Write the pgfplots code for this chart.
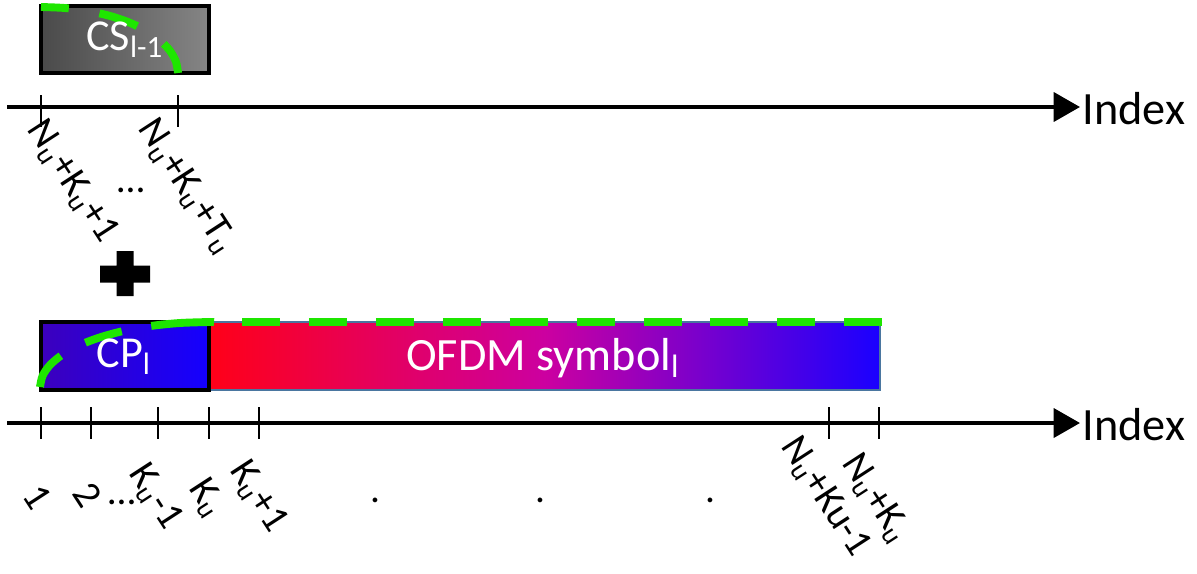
\documentclass[border=0pt]{standalone}
\usepackage{fontspec}
\setmainfont{Carlito}
\usepackage{pgfplots}
\pgfplotsset{compat=1.18}
\usetikzlibrary{arrows.meta}
\definecolor{grn}{HTML}{1EE600}
\definecolor{csL}{HTML}{4A4A4A}
\definecolor{csR}{HTML}{858585}
\definecolor{cpL}{HTML}{3C00BD}
\definecolor{cpR}{HTML}{1400FF}
\definecolor{ofL}{HTML}{FF0018}
\definecolor{ofM}{HTML}{CC00A0}
\definecolor{ofR}{HTML}{1A00FF}
\definecolor{ofB}{HTML}{4A76A0}
\begin{document}
\begin{tikzpicture}
\begin{axis}[width=16cm,height=7.4587cm,scale only axis,
  xmin=0,xmax=1197,ymin=0,ymax=558,y dir=reverse,
  hide axis,clip=false,unbounded coords=jump]
% frame that fixes the picture's extent
\addplot[draw=none] coordinates {(0,0)(1197,0)(1197,558)(0,558)} -- cycle;
% ---- top: CS box
\addplot[draw=black,line width=1.5pt,left color=csL,right color=csR]
  coordinates {(41,6)(209,6)(209,73)(41,73)} -- cycle;
\addplot[grn,line width=3pt,smooth,dash pattern=on 10.6pt off 11.8pt on 15.2pt off 12.2pt on 20pt off 30pt]
  coordinates {(41,7)(64.8,8.0)(87.9,11.0)(109.5,15.8)(129.1,22.4)(145.9,30.6)(159.6,40)(169.7,50.4)(175.9,61.5)(178,73)};
\node[text=white,font=\fontsize{16.8}{18}\selectfont] at (axis cs:125,40) {CS\textsubscript{l-1}};
% top axis
\addplot[black,line width=1.5pt,-{Triangle[length=10pt,width=11pt]}] coordinates {(7,107)(1080,107)};
\addplot[black,line width=1.1pt] coordinates {(41,95)(41,127)(41,nan)(178,95)(178,127)};
\node[anchor=west,font=\fontsize{17.6}{20}\selectfont,inner sep=0pt] at (axis cs:1082,109) {Index};
\node[rotate=-57,font=\fontsize{15}{16}\selectfont] at (axis cs:72,182) {N\textsubscript{u}+K\textsubscript{u}+1};
\node[rotate=-57,font=\fontsize{15}{16}\selectfont] at (axis cs:187,187) {N\textsubscript{u}+K\textsubscript{u}+T\textsubscript{u}};
\node[font=\fontsize{15}{16}\selectfont] at (axis cs:131,190) {…};
% plus sign
\addplot[fill=black,draw=none] coordinates {(116.5,251)(133.5,251)(133.5,265.5)(150,265.5)(150,282.5)(133.5,282.5)(133.5,296)(116.5,296)(116.5,282.5)(100,282.5)(100,265.5)(116.5,265.5)} -- cycle;
% ---- bottom boxes
\addplot[draw=ofB,line width=1pt,left color=ofL,right color=ofR,middle color=ofM]
  coordinates {(209,322)(880,322)(880,390)(209,390)} -- cycle;
\addplot[draw=black,line width=1.5pt,left color=cpL,right color=cpR]
  coordinates {(41,322)(209,322)(209,390)(41,390)} -- cycle;
\addplot[grn,line width=3pt,smooth,dash pattern=on 14.8pt off 10.6pt on 14.5pt off 11.4pt on 26pt off 40pt]
  coordinates {(40,387)(42.6,375.7)(50.2,364.8)(62.6,354.5)(79.5,345.2)(100.4,337.2)(124.5,330.7)(151.2,325.9)(179.7,323)(209,322)(214,322)};
\addplot[grn,line width=3pt,dash pattern=on 14.45pt off 11pt] coordinates {(242,322)(883,322)};
\node[text=white,font=\fontsize{16.8}{18}\selectfont] at (axis cs:124,357) {CP\textsubscript{l}};
\node[text=white,font=\fontsize{17.6}{19}\selectfont] at (axis cs:543,358) {OFDM symbol\textsubscript{l}};
% bottom axis
\addplot[black,line width=1.5pt,-{Triangle[length=10pt,width=11pt]}] coordinates {(7,423)(1080,423)};
\addplot[black,line width=1.1pt] coordinates {(41,407)(41,439)(41,nan)(91,407)(91,439)(91,nan)(158,407)(158,439)(158,nan)(209,407)(209,439)(209,nan)(259,407)(259,439)(259,nan)(829,407)(829,439)(829,nan)(879,407)(879,439)};
\node[anchor=west,font=\fontsize{17.6}{20}\selectfont,inner sep=0pt] at (axis cs:1082,425) {Index};
\node[rotate=-57,font=\fontsize{15}{16}\selectfont] at (axis cs:38,497) {1};
\node[rotate=-57,font=\fontsize{15}{16}\selectfont] at (axis cs:88,495) {2};
\node[font=\fontsize{15}{16}\selectfont] at (axis cs:122,502) {…};
\node[rotate=-57,font=\fontsize{15}{16}\selectfont] at (axis cs:155,497) {K\textsubscript{u}-1};
\node[rotate=-57,font=\fontsize{15}{16}\selectfont] at (axis cs:207,498) {K\textsubscript{u}};
\node[rotate=-57,font=\fontsize{15}{16}\selectfont] at (axis cs:258,497) {K\textsubscript{u}+1};
\node[rotate=-57,font=\fontsize{15}{16}\selectfont] at (axis cs:825,497) {N\textsubscript{u}+Ku-1};
\node[rotate=-57,font=\fontsize{15}{16}\selectfont] at (axis cs:876,499) {N\textsubscript{u}+K\textsubscript{u}};
\node[font=\fontsize{15}{16}\selectfont] at (axis cs:375,500) {.};
\node[font=\fontsize{15}{16}\selectfont] at (axis cs:540,500) {.};
\node[font=\fontsize{15}{16}\selectfont] at (axis cs:710,500) {.};
\end{axis}
\end{tikzpicture}
\end{document}
